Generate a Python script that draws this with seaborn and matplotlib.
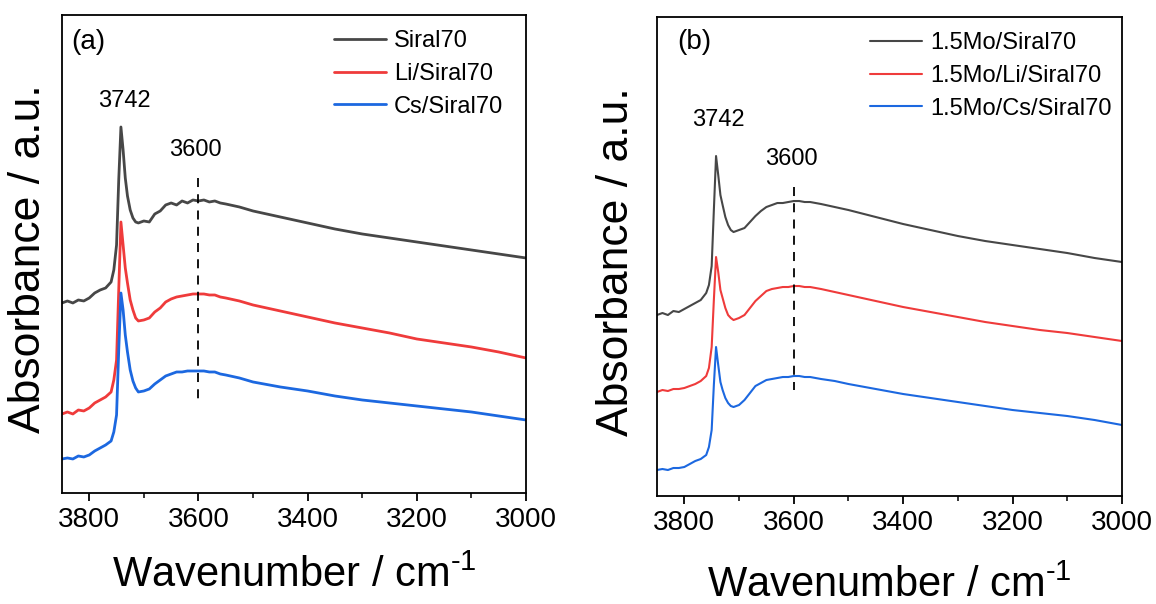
import numpy as np
import pandas as pd
import seaborn as sns
import matplotlib.pyplot as plt
from matplotlib.ticker import MultipleLocator

sns.set_theme(style="ticks")
plt.rcParams['font.family'] = ['Liberation Sans', 'DejaVu Sans']
plt.rcParams['mathtext.fontset'] = 'custom'
plt.rcParams['mathtext.rm'] = 'Liberation Sans'
plt.rcParams['text.color'] = 'black'
plt.rcParams['axes.labelcolor'] = 'black'
plt.rcParams['xtick.color'] = 'black'

# wavenumber grid (cm-1)
wavenumber = [3850, 3840, 3830, 3820, 3810, 3800, 3790, 3780, 3770, 3760, 3755, 3750,
              3746, 3742, 3738, 3734, 3730, 3725, 3720, 3715, 3710, 3700, 3690, 3680,
              3670, 3660, 3650, 3640, 3630, 3620, 3610, 3600, 3590, 3580, 3570, 3560,
              3550, 3525, 3500, 3450, 3400, 3350, 3300, 3250, 3200, 3150, 3100, 3050, 3000]

# panel (a), absorbance in arbitrary units (offset stacked)
siral70 = [190, 192, 190, 193, 192, 195, 200, 203, 205, 211, 223, 248, 313, 366, 343, 315, 297,
           283, 275, 271, 270, 272, 271, 279, 282, 288, 290, 288, 292, 290, 293, 292, 293, 291,
           292, 290, 289, 286, 282, 276, 270, 264, 259, 255, 251, 247, 243, 239, 235]
li_siral70 = [79, 81, 79, 83, 82, 85, 90, 93, 96, 101, 113, 133, 203, 271, 248, 225, 210, 193,
              183, 175, 172, 173, 175, 181, 185, 191, 194, 196, 197, 198, 199, 199, 199, 198,
              198, 196, 195, 192, 188, 182, 176, 170, 165, 160, 154, 150, 146, 141, 135]
cs_siral70 = [34, 35, 34, 37, 36, 38, 42, 45, 48, 52, 61, 78, 143, 200, 183, 158, 141, 123, 112,
              105, 101, 102, 104, 109, 113, 117, 119, 121, 121, 122, 122, 122, 122, 121, 121,
              119, 118, 115, 111, 106, 102, 97, 93, 90, 87, 84, 81, 77, 73]

# panel (b)
mo_siral70 = [181, 183, 181, 185, 184, 187, 190, 193, 196, 203, 211, 230, 286, 340, 321, 301,
              291, 279, 271, 266, 264, 266, 268, 274, 280, 285, 289, 291, 293, 293, 294, 295,
              295, 294, 294, 293, 292, 289, 286, 279, 272, 266, 260, 255, 251, 247, 243, 238, 234]
mo_li_siral70 = [104, 106, 105, 107, 107, 108, 110, 112, 115, 120, 128, 149, 196, 239, 224, 206,
                 198, 188, 181, 178, 176, 178, 181, 188, 195, 200, 205, 207, 208, 209, 209, 210,
                 210, 209, 209, 208, 207, 204, 201, 195, 189, 184, 179, 174, 170, 166, 163, 159, 155]
mo_cs_siral70 = [26, 27, 26, 28, 28, 29, 32, 35, 37, 41, 49, 66, 111, 149, 131, 114, 106, 98, 93,
                 90, 89, 91, 96, 103, 110, 113, 116, 117, 118, 119, 119, 120, 120, 119, 119, 118,
                 117, 115, 112, 107, 102, 98, 94, 90, 86, 83, 80, 76, 71]

labels_a = ['Siral70', 'Li/Siral70', 'Cs/Siral70']
labels_b = ['1.5Mo/Siral70', '1.5Mo/Li/Siral70', '1.5Mo/Cs/Siral70']
colors = ['#474747', '#ef3b3b', '#1c68e0']


def make_frame(series, names):
    rows = []
    for vals, name in zip(series, names):
        rows.append(pd.DataFrame({'wn': wavenumber, 'abs': vals, 'sample': name}))
    return pd.concat(rows, ignore_index=True)


fig = plt.figure(figsize=(11.56, 6.04), dpi=100)
ax_a = fig.add_axes([0.0536, 0.1838, 0.4014, 0.7914])
ax_b = fig.add_axes([0.5683, 0.1788, 0.4023, 0.7930])

panels = [
    (ax_a, make_frame([siral70, li_siral70, cs_siral70], labels_a), labels_a, '(a)', 478,
     (3735, 392), (3606, 343), (315, 93), 2.0, (0.586, 0.968), (0.056, 0.943), -0.028, -0.13),
    (ax_b, make_frame([mo_siral70, mo_li_siral70, mo_cs_siral70], labels_b), labels_b, '(b)', 479,
     (3737, 376), (3605, 337), (309, 106), 1.5, (0.458, 0.968), (0.08, 0.948), -0.043, -0.145),
]

for ax, df, names, tag, ytop, p1, p2, dash, lw, leg_pos, tag_pos, ylab_x, xlab_y in panels:
    sns.lineplot(data=df, x='wn', y='abs', hue='sample', hue_order=names,
                 palette=colors, linewidth=lw, estimator=None, ax=ax)
    ax.set_xlim(3850, 3000)
    ax.set_ylim(0, ytop)
    ax.set_yticks([])
    ax.xaxis.set_major_locator(MultipleLocator(200))
    ax.xaxis.set_minor_locator(MultipleLocator(100))
    ax.tick_params(axis='x', which='major', direction='out', length=6, width=1.3,
                   labelsize=20, pad=4, color='black', labelcolor='black')
    ax.tick_params(axis='x', which='minor', direction='out', length=3.5, width=1.1, color='black')
    for sp in ax.spines.values():
        sp.set_linewidth(1.3)
        sp.set_color('black')

    ax.plot([3600, 3600], list(dash), ls=(0, (5, 4)), color='black', lw=1.3)
    ax.text(p1[0], p1[1], '3742', fontsize=17, ha='center', va='center')
    ax.text(p2[0], p2[1], '3600', fontsize=17, ha='center', va='center')
    ax.text(tag_pos[0], tag_pos[1], tag, fontsize=20, ha='center', va='center',
            transform=ax.transAxes)

    ax.legend(loc='upper left', bbox_to_anchor=leg_pos, frameon=False, fontsize=17,
              handlelength=2.2, handletextpad=0.35, labelspacing=0.45,
              borderpad=0, borderaxespad=0)

    ax.set_xlabel(r'Wavenumber / cm$^{\text{-1}}$', fontsize=30)
    ax.set_ylabel('Absorbance / a.u.', fontsize=32)
    ax.xaxis.set_label_coords(0.5, xlab_y)
    ax.yaxis.set_label_coords(ylab_x, 0.49)

fig.savefig('out.png', dpi=100)
